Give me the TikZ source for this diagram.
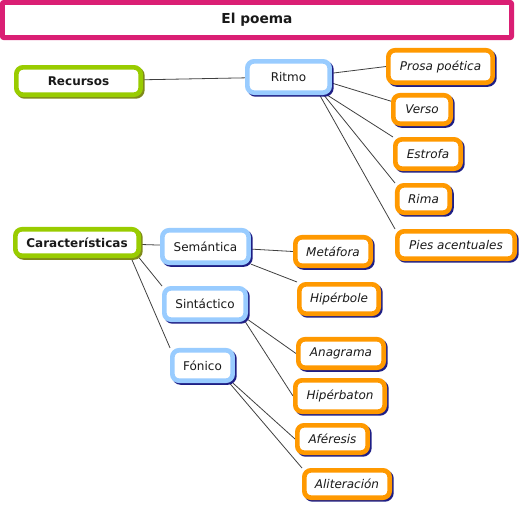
\documentclass[tikz,border=0pt]{standalone}
\usepackage{fontspec}
\setmainfont{DejaVu Sans}
\usetikzlibrary{shadows,backgrounds}
\definecolor{titlepink}{HTML}{DA1F74}
\definecolor{rootgreen}{HTML}{99CC00}
\definecolor{midblue}{HTML}{99CCFF}
\definecolor{leaforange}{HTML}{FF9900}
\definecolor{navyshade}{HTML}{1E1E85}
\definecolor{oliveshade}{HTML}{7F8A1A}
\tikzset{
  box/.style={rectangle, rounded corners=5pt, fill=white, line width=3.5pt, inner sep=0pt, text=black!90,
    font=\fontsize{9}{10}\selectfont},
  rootbox/.style={box, draw=rootgreen, font=\fontsize{9}{10}\selectfont\bfseries,
    drop shadow={shadow xshift=1.3pt, shadow yshift=-1.3pt, fill=oliveshade, draw=oliveshade, opacity=1}},
  midbox/.style={box, draw=midblue,
    drop shadow={shadow xshift=1.3pt, shadow yshift=-1.3pt, fill=navyshade, draw=navyshade, opacity=1}},
  leafbox/.style={box, draw=leaforange, font=\fontsize{9}{10}\selectfont\itshape,
    drop shadow={shadow xshift=1.3pt, shadow yshift=-1.3pt, fill=navyshade, draw=navyshade, opacity=1}},
  link/.style={draw=black!75, line width=0.6pt}
}
\begin{document}
\begin{tikzpicture}[x=0.75pt, y=-0.75pt]
            \useasboundingbox (0,0) rectangle (521,508);
            \node[box, draw=titlepink, line width=3.8pt, rounded corners=1.5pt, minimum width=382pt, minimum height=26.5pt, font=\fontsize{10.3}{12}\selectfont\bfseries] (title) at (257,20) {El poema};
            \node[rootbox, minimum width=93.2pt, minimum height=20.5pt] (recursos) at (78.5,81) {Recursos};
            \node[rootbox, minimum width=92.5pt, minimum height=19.8pt] (caract) at (77,242.5) {Características};
            \node[midbox, minimum width=61.7pt, minimum height=23.5pt] (ritmo) at (288.5,77) {Ritmo};
            \node[midbox, minimum width=64.7pt, minimum height=24.3pt] (semantica) at (205.5,246.5) {Semántica};
            \node[midbox, minimum width=61pt, minimum height=23.5pt] (sintactico) at (205,304) {Sintáctico};
            \node[midbox, minimum width=45.2pt, minimum height=22.8pt] (fonico) at (202.5,365.5) {Fónico};
            \node[leafbox, minimum width=78.2pt, minimum height=24.3pt] (prosa) at (440.5,66.5) {Prosa poética};
            \node[leafbox, minimum width=43pt, minimum height=21.3pt] (verso) at (422,109.5) {Verso};
            \node[leafbox, minimum width=49pt, minimum height=22pt] (estrofa) at (428,154) {Estrofa};
            \node[leafbox, minimum width=39.3pt, minimum height=20.5pt] (rima) at (423.5,199) {Rima};
            \node[leafbox, minimum width=88pt, minimum height=20.5pt] (pies) at (456,245) {Pies acentuales};
            \node[leafbox, minimum width=56.5pt, minimum height=21.3pt] (metafora) at (333,251.5) {Metáfora};
            \node[leafbox, minimum width=59.5pt, minimum height=22pt] (hiperbole) at (339,299) {Hipérbole};
            \node[leafbox, minimum width=64pt, minimum height=21.3pt] (anagrama) at (341,353.5) {Anagrama};
            \node[leafbox, minimum width=67pt, minimum height=23.5pt] (hiperbaton) at (340,396) {Hipérbaton};
            \node[leafbox, minimum width=52.7pt, minimum height=20.5pt] (aferesis) at (332.5,439) {Aféresis};
            \node[leafbox, minimum width=64pt, minimum height=20.5pt] (aliteracion) at (347,484) {Aliteración};
            \begin{scope}[on background layer]
            \draw[link] (recursos) -- (ritmo);
            \draw[link] (ritmo.5) -- (prosa.west);
            \draw[link] (ritmo.-8) -- (verso.165);
            \draw[link] (ritmo.-25) -- (estrofa.north west);
            \draw[link] (ritmo.-27.5) -- (rima.north west);
            \draw[link] (ritmo.-30.5) -- (pies.north west);
            \draw[link] (caract) -- (semantica);
            \draw[link] (caract.-14) -- (sintactico.north west);
            \draw[link] (caract.-16) -- (fonico.north west);
            \draw[link] (semantica) -- (metafora.west);
            \draw[link] (semantica) -- (hiperbole.north west);
            \draw[link] (sintactico.-20) -- (anagrama.west);
            \draw[link] (sintactico.-24) -- (hiperbaton.west);
            \draw[link] (fonico.-30) -- (aferesis.west);
            \draw[link] (fonico.-33) -- (aliteracion.north west);
            \end{scope}
        \end{tikzpicture}
\end{document}
